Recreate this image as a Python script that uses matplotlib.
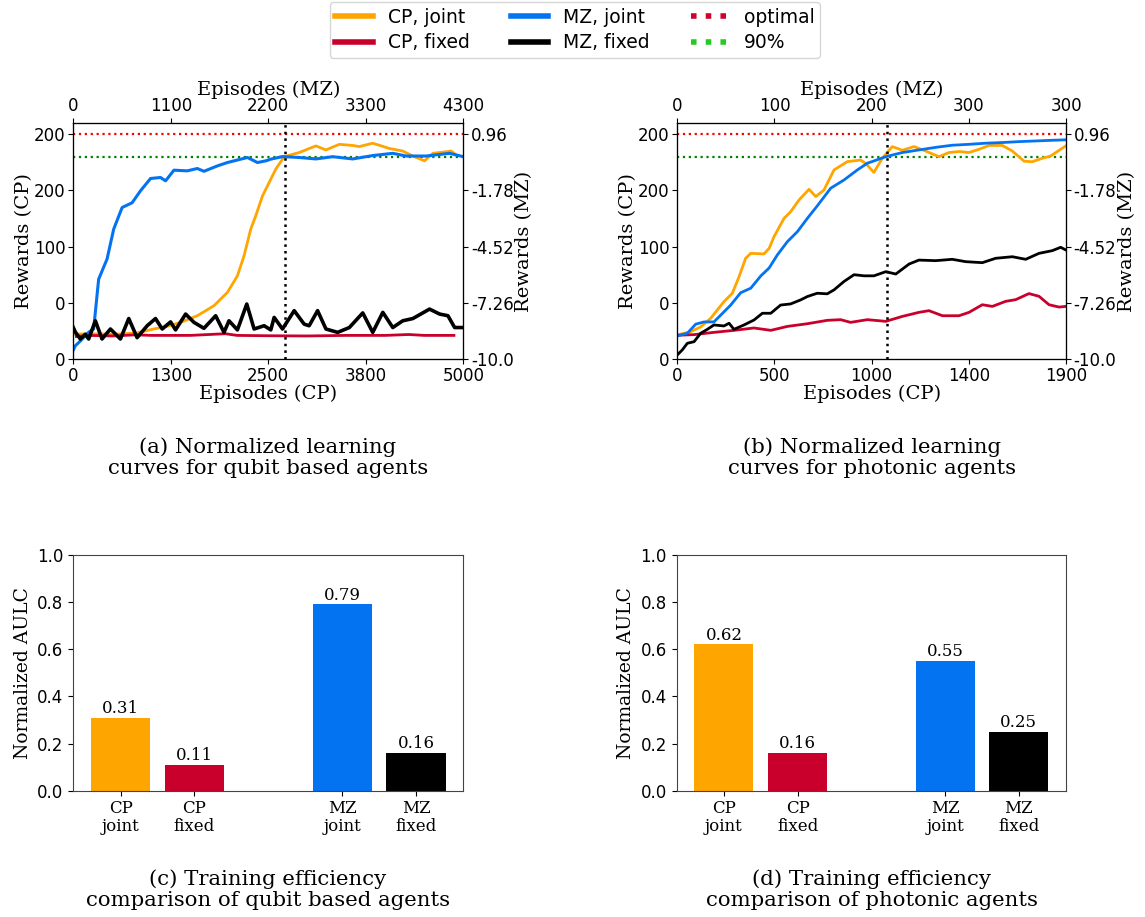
import matplotlib
matplotlib.use("Agg")
import matplotlib.pyplot as plt
from matplotlib.lines import Line2D

# colours
c_orange = "#FFA500"
c_red = "#C9002B"
c_blue = "#0473F2"
c_black = "#000000"

# (a) qubit based agents, rewards in CP units, x in CP episodes
a_ep_cpj = [0, 200, 500, 800, 1032, 1200, 1375, 1590, 1803, 1976, 2104, 2189, 2275, 2339, 2425,
            2532, 2596, 2703, 2896, 3110, 3239, 3410, 3582, 3667, 3839, 4053, 4224, 4353, 4503,
            4610, 4846, 4900]
a_cpj = [22, 22.5, 22, 23, 26.7, 29, 32.6, 38.5, 47.4, 59.3, 74, 91.8, 115.6, 127.4, 145,
         160, 168.9, 180, 183.7, 189.6, 186, 191, 190, 189, 192, 187.3, 185, 180.6, 176.3,
         183, 185, 182]

a_ep_cpf = [40, 200, 500, 800, 1000, 1500, 1950, 2100, 2500, 3000, 3500, 4000, 4300, 4500, 4880]
a_cpf = [20, 21, 20.5, 21.5, 21, 21, 22.5, 21, 20.7, 20.5, 21, 21, 21.8, 21, 21]

a_ep_mzj = [0, 26, 90, 154, 200, 261, 325, 433, 518, 626, 754, 861, 990, 1118, 1183, 1290,
            1461, 1590, 1675, 1847, 1976, 2233, 2361, 2468, 2532, 2682, 2896, 3110, 3325,
            3582, 3839, 4096, 4267, 4524, 4824, 5000]
a_mzj = [8, 11.8, 16, 20.7, 24, 26.7, 71, 89, 115.6, 134.8, 139, 149.6, 160.6, 161.5, 158.5,
         168, 167.4, 169.5, 167, 171.8, 174.8, 179.3, 174.8, 176.3, 177.8, 180.1, 179.3, 178,
         180, 178, 181, 183, 180.6, 180.6, 183, 180]

a_ep_mzf = [0, 26, 90, 154, 197, 283, 368, 476, 604, 711, 818, 947, 1054, 1140, 1247, 1311,
            1440, 1547, 1675, 1825, 1932, 1996, 2104, 2224, 2318, 2446, 2532, 2575, 2682,
            2832, 2960, 3024, 3132, 3239, 3389, 3539, 3711, 3839, 3968, 4096, 4224, 4353,
            4567, 4696, 4803, 4889, 5000]
a_mzf = [28, 24, 17.8, 22, 17.8, 34, 17.8, 26.7, 17.8, 36, 19, 29.6, 36, 26.7, 33, 25.9,
         40, 32.6, 27.3, 38.5, 23.7, 34, 25.9, 48.9, 26.7, 29.6, 25.9, 37, 26.7,
         43, 31, 29.6, 43, 26.7, 23.7, 28, 41, 23.7, 41.5, 28, 34, 36,
         44.4, 40, 38.5, 28, 28]

# (b) photonic agents
b_ep_cpj = [0, 65, 114, 163, 228, 269, 302, 334, 359, 424, 449, 473, 522, 554, 595, 644, 677,
            717, 766, 831, 896, 921, 961, 1002, 1051, 1100, 1157, 1214, 1279, 1328, 1377,
            1426, 1475, 1524, 1589, 1638, 1695, 1735, 1784, 1825, 1874, 1899]
b_cpj = [21.4, 24.3, 28.5, 36.2, 51, 58.5, 73.3, 89.6, 94, 93.5, 98.5, 108.9, 125.2, 131,
         141.5, 151, 144.5, 150.4, 168.2, 175.6, 177, 174, 166, 178.6, 189, 185.7, 189, 185,
         180, 183.7, 184.6, 183.7, 186.6, 190, 190, 185, 176, 175.5, 178.6, 180.6, 186.6,
         189.6]

b_ep_cpf = [0, 82, 179, 277, 375, 457, 538, 636, 733, 798, 847, 929, 1019, 1100, 1181, 1230,
            1296, 1377, 1426, 1491, 1540, 1605, 1654, 1719, 1768, 1817, 1866, 1899]
b_cpf = [21.1, 21.7, 23.7, 25.5, 27.6, 25.5, 29, 31.4, 34.4, 35, 32.6, 35, 33.5, 37.9, 41.5,
         43, 38.5, 38.5, 41.5, 48.3, 46.8, 51.3, 52.8, 58.2, 55.8, 48.3, 46.2, 46.8]

b_ep_mzj = [0, 49, 90, 131, 179, 212, 261, 310, 359, 408, 449, 489, 538, 587, 636, 684, 750,
            815, 880, 929, 961, 1019, 1100, 1181, 1263, 1344, 1426, 1507, 1589, 1670, 1752,
            1833, 1899]
b_mzj = [20.5, 22.9, 31, 33, 33, 39, 48, 59, 63, 73.9, 81, 92.6, 104.4, 113.3, 125.2, 136.2,
         152, 159.3, 168.2, 174.2, 176.2, 180, 183.7, 186, 188.3, 190.2, 191, 192, 192.6,
         193.4, 194, 194.6, 195]

b_ep_mzf = [0, 24, 49, 82, 114, 147, 179, 228, 253, 277, 326, 375, 416, 457, 505, 554, 603,
            636, 684, 733, 766, 815, 864, 913, 961, 1019, 1068, 1133, 1181, 1263, 1344, 1410,
            1491, 1556, 1638, 1703, 1768, 1833, 1874, 1899]
b_mzf = [3.6, 8, 14, 15.4, 22.9, 26.4, 30.3, 29.4, 31.8, 26.4, 30.3, 34.7, 40.7, 40.7, 48,
         49, 52.6, 55.6, 58.5, 58, 61.5, 69, 75, 74, 74, 77.7, 75.6, 84.5, 88, 87.5, 88.7,
         86.6, 85.7, 89.6, 91, 88.7, 94, 96.4, 99.4, 97]

optimal = 200
ninety = 180
a_cross = 2712
b_cross = 1026

left_ticks = [0, 50, 100, 150, 200]
left_labels = ["0", "0", "100", "200", "200"]
right_labels = ["-10.0", "-7.26", "-4.52", "-1.78", "0.96"]
a_bottom_labels = ["0", "1300", "2500", "3800", "5000"]
a_top_labels = ["0", "1100", "2200", "3300", "4300"]
b_bottom_labels = ["0", "500", "1000", "1400", "1900"]
b_top_labels = ["0", "100", "200", "300", "300"]

# (c), (d) bars
bar_pos = [0, 1, 3, 4]
bar_names = ["CP\njoint", "CP\nfixed", "MZ\njoint", "MZ\nfixed"]
bar_colors = [c_orange, c_red, c_blue, c_black]
c_aulc = [0.31, 0.11, 0.79, 0.16]
d_aulc = [0.62, 0.16, 0.55, 0.25]

serif = "DejaVu Serif"
W, H = 1145, 917
fig = plt.figure(figsize=(W / 100, H / 100), dpi=100)


def curve_panel(rect, xmax, curves, cross, bottom_labels, top_labels):
    ax = fig.add_axes(rect)
    ax.axhline(optimal, color="red", ls=":", lw=1.6)
    ax.axhline(ninety, color="green", ls=":", lw=1.6)
    for (x, y, col, lw) in curves:
        ax.plot(x, y, color=col, lw=lw)
    ax.axvline(cross, color="black", ls=":", lw=1.8)
    ax.set_xlim(0, xmax)
    ax.set_ylim(0, 210)
    xt = [xmax * i / 4 for i in range(5)]
    ax.set_xticks(xt)
    ax.set_xticklabels(bottom_labels)
    ax.set_yticks(left_ticks)
    ax.set_yticklabels(left_labels)
    ax.tick_params(labelsize=12, pad=2)
    ax.set_xlabel("Episodes (CP)", family=serif, fontsize=14, labelpad=0)
    ax.set_ylabel("Rewards (CP)", family=serif, fontsize=14, labelpad=1)
    top = ax.twiny()
    top.set_xlim(0, xmax)
    top.set_xticks(xt)
    top.set_xticklabels(top_labels)
    top.tick_params(labelsize=12, pad=2)
    top.set_xlabel("Episodes (MZ)", family=serif, fontsize=14, labelpad=2)
    right = ax.twinx()
    right.set_ylim(0, 210)
    right.set_yticks(left_ticks)
    right.set_yticklabels(right_labels)
    right.tick_params(labelsize=12, pad=2)
    right.set_ylabel("Rewards (MZ)", family=serif, fontsize=14, labelpad=1)
    return ax


def bar_panel(rect, vals):
    ax = fig.add_axes(rect)
    bars = ax.bar(bar_pos, vals, width=0.8, color=bar_colors)
    for b, v in zip(bars, vals):
        ax.text(b.get_x() + b.get_width() / 2, v + 0.003, f"{v:.2f}", ha="center",
                va="bottom", family=serif, fontsize=12)
    ax.set_ylim(0, 1.0)
    ax.set_yticks([0, 0.2, 0.4, 0.6, 0.8, 1.0])
    ax.set_xticks(bar_pos)
    ax.set_xticklabels(bar_names, family=serif, fontsize=12, linespacing=1.05)
    ax.tick_params(axis="y", labelsize=12)
    ax.set_ylabel("Normalized AULC", family=serif, fontsize=13.5)
    for s in ax.spines.values():
        s.set_color("#444444")
    return ax


ax_h = 0.2574
curve_panel([73.3 / W, 0.6085, 390 / W, ax_h], 5000,
            [(a_ep_cpj, a_cpj, c_orange, 2.0), (a_ep_cpf, a_cpf, c_red, 2.0),
             (a_ep_mzj, a_mzj, c_blue, 2.2), (a_ep_mzf, a_mzf, c_black, 2.6)],
            a_cross, a_bottom_labels, a_top_labels)
curve_panel([677.3 / W, 0.6085, 388.7 / W, ax_h], 1900,
            [(b_ep_cpj, b_cpj, c_orange, 2.0), (b_ep_cpf, b_cpf, c_red, 2.0),
             (b_ep_mzj, b_mzj, c_blue, 2.0), (b_ep_mzf, b_mzf, c_black, 2.0)],
            b_cross, b_bottom_labels, b_top_labels)

bar_panel([73.3 / W, 0.1377, 390 / W, ax_h], c_aulc)
bar_panel([676.7 / W, 0.1377, 389.3 / W, ax_h], d_aulc)

# captions
cap_kw = dict(ha="center", va="center", family=serif, fontsize=15.3, linespacing=1.12)
fig.text(268 / W, 1 - 458 / H, "(a) Normalized learning\ncurves for qubit based agents", **cap_kw)
fig.text(872 / W, 1 - 458 / H, "(b) Normalized learning\ncurves for photonic agents", **cap_kw)
fig.text(268 / W, 1 - 890 / H, "(c) Training efficiency\ncomparison of qubit based agents", **cap_kw)
fig.text(872 / W, 1 - 890 / H, "(d) Training efficiency\ncomparison of photonic agents", **cap_kw)

handles = [Line2D([], [], color=c_orange, lw=4), Line2D([], [], color=c_red, lw=4),
           Line2D([], [], color=c_blue, lw=4), Line2D([], [], color=c_black, lw=4),
           Line2D([], [], color="#D0002A", lw=4, ls=":"), Line2D([], [], color="#22CC22", lw=4, ls=":")]
labels = ["CP, joint", "CP, fixed", "MZ, joint", "MZ, fixed", "optimal", "90%"]
fig.legend(handles, labels, loc="upper center", bbox_to_anchor=(575 / W, 1.008), ncol=3,
           fontsize=13.5, handlelength=2.0, columnspacing=2.2, borderpad=0.3,
           labelspacing=0.35, handletextpad=0.8)

fig.savefig("out.png", dpi=100)
